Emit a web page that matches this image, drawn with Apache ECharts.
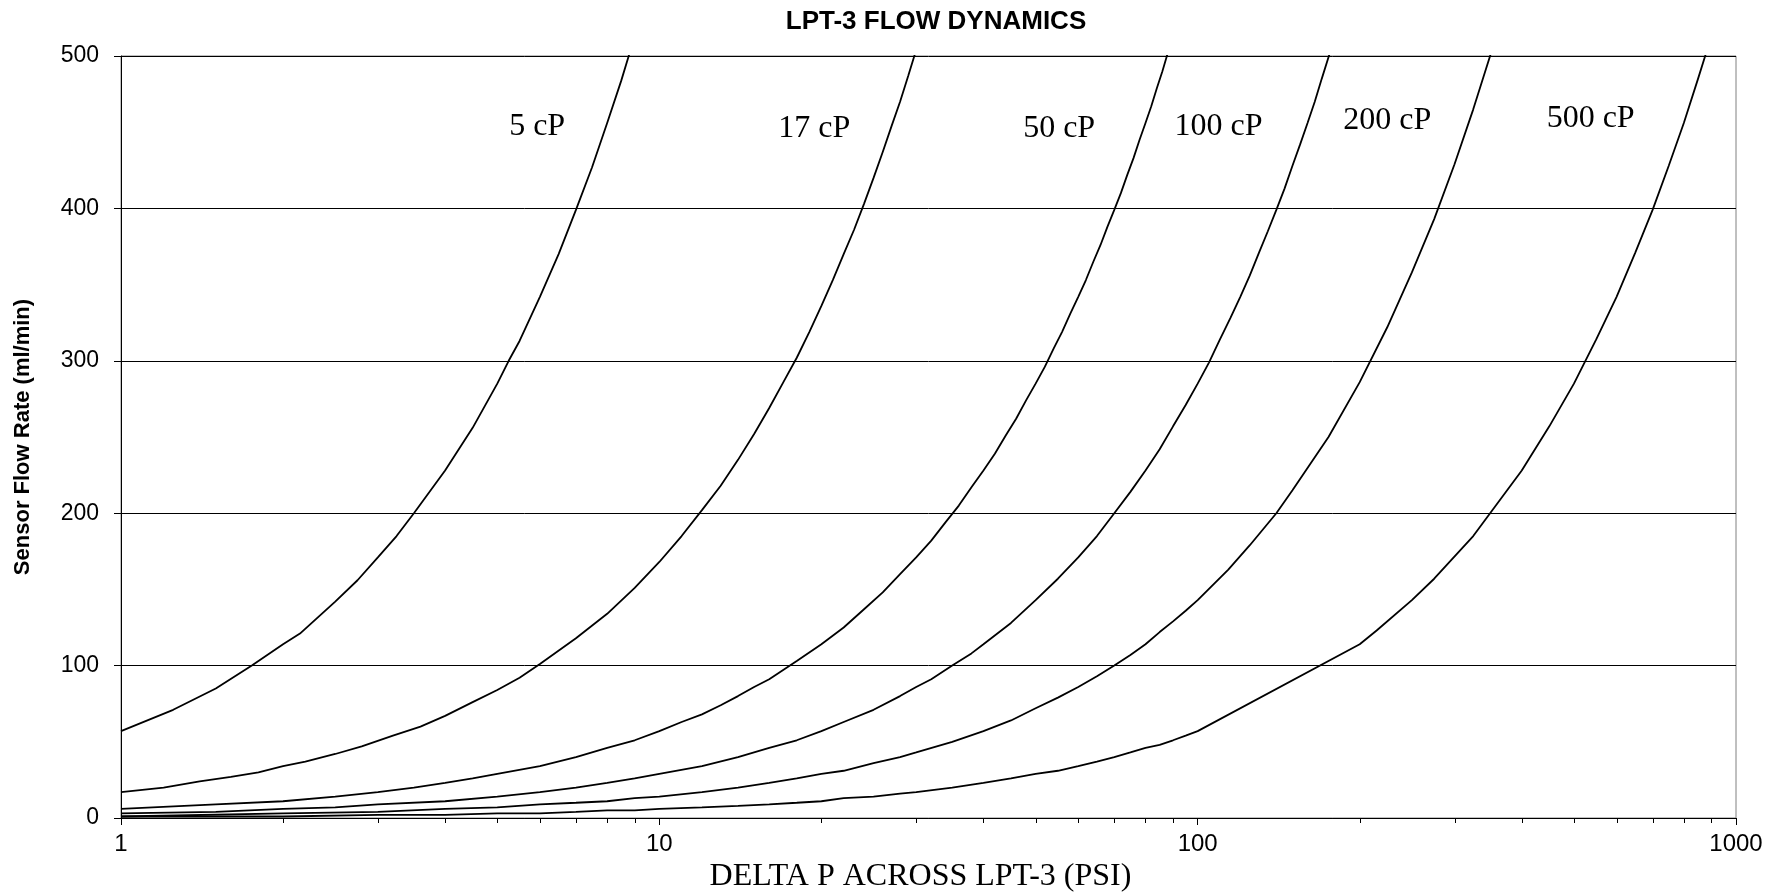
<!DOCTYPE html>
<html>
<head>
<meta charset="utf-8">
<script src="https://cdn.jsdelivr.net/npm/echarts@6/dist/echarts.min.js"></script>
<style>
html, body { margin: 0; padding: 0; background: #fff; }
#chart { width: 1777px; height: 894px; }
</style>
</head>
<body>
<div id="chart"></div>
<script>
// ---- Data (x = delta P in PSI, y = flow in ml/min) ----
const dp5    = [1, 1.25, 1.5, 1.75, 2, 2.15, 2.5, 2.75, 3, 3.25, 3.5, 4, 4.5, 5, 5.25, 5.5, 6, 6.5, 7, 7.5, 8, 8.5, 9];
const flow5  = [57, 71, 85, 100, 114, 121, 142, 156, 171, 185, 200, 228, 256, 285, 300, 313, 342, 370, 399, 427, 456, 484, 513];

const dp17   = [1, 1.2, 1.4, 1.6, 1.8, 2, 2.2, 2.5, 2.8, 3.2, 3.6, 4, 4.5, 5, 5.5, 6, 7, 8, 9, 10, 11, 12, 13, 14, 15, 16, 17, 18, 19, 20, 21, 22, 23, 24, 25, 26, 27, 28, 29, 30];
const flow17 = [17, 20, 24, 27, 30, 34, 37, 42, 47, 54, 60, 67, 76, 84, 92, 101, 118, 134, 151, 168, 185, 202, 218, 235, 252, 269, 286, 302, 319, 336, 353, 370, 386, 403, 420, 437, 454, 470, 487, 504];

const dp50   = [1, 1.5, 2, 2.5, 3, 3.5, 4, 4.5, 5, 6, 7, 8, 9, 10, 11, 12, 13, 14, 15, 16, 18, 20, 22, 24, 26, 28, 30, 32, 34, 36, 38, 40, 42, 44, 46, 48, 50, 52, 54, 56, 58, 60, 62, 64, 66, 68, 70, 72, 74, 76, 78, 80, 82, 84, 86, 88];
const flow50 = [6, 9, 11, 14, 17, 20, 23, 26, 29, 34, 40, 46, 51, 57, 63, 68, 74, 80, 86, 91, 103, 114, 125, 137, 148, 160, 171, 182, 194, 205, 217, 228, 239, 251, 262, 274, 285, 296, 308, 319, 331, 342, 353, 365, 376, 388, 399, 410, 422, 433, 445, 456, 467, 479, 490, 502];

const dp100   = [1, 1.5, 2, 2.5, 3, 4, 5, 6, 7, 8, 9, 10, 12, 14, 16, 18, 20, 22, 25, 28, 30, 32, 35, 38, 40, 45, 50, 55, 60, 65, 70, 75, 80, 85, 90, 95, 100, 105, 110, 115, 120, 125, 130, 135, 140, 145, 150, 155, 160, 165, 170, 176];
const flow100 = [3, 4, 6, 7, 9, 11, 14, 17, 20, 23, 26, 29, 34, 40, 46, 51, 57, 63, 71, 80, 86, 91, 100, 108, 114, 128, 143, 157, 171, 185, 200, 214, 228, 242, 257, 271, 285, 299, 314, 328, 342, 356, 371, 385, 399, 413, 428, 442, 456, 470, 485, 502];

const dp200   = [1, 2, 3, 4, 5, 6, 7, 8, 9, 10, 12, 14, 16, 18, 20, 22, 25, 28, 30, 35, 40, 45, 50, 55, 60, 65, 70, 75, 80, 85, 90, 95, 100, 114, 125, 140, 150, 175, 200, 225, 250, 275, 300, 325, 350];
const flow200 = [1, 3, 4, 6, 7, 9, 10, 11, 13, 14, 17, 20, 23, 26, 29, 31, 36, 40, 43, 50, 57, 64, 72, 79, 86, 93, 100, 107, 114, 122, 129, 136, 143, 163, 179, 200, 215, 250, 286, 322, 358, 393, 429, 465, 501];

const dp500   = [1, 2, 3, 4, 5, 6, 7, 8, 9, 10, 12, 14, 16, 18, 20, 22, 25, 28, 30, 35, 40, 45, 50, 55, 60, 65, 70, 75, 80, 85, 90, 95, 100, 200, 215, 250, 275, 325, 400, 450, 500, 550, 600, 650, 700, 750, 800, 850, 900];
const flow500 = [1, 1, 2, 2, 3, 3, 4, 5, 5, 6, 7, 8, 9, 10, 11, 13, 14, 16, 17, 20, 23, 26, 29, 31, 34, 37, 40, 43, 46, 48, 51, 54, 57, 114, 123, 143, 157, 185, 228, 257, 285, 314, 342, 371, 399, 428, 456, 485, 513];

const curveNames = ['5 cP', '17 cP', '50 cP', '100 cP', '200 cP', '500 cP'];
// label anchors in data space (delta P, flow)
const curveLabelAt = [[5.93, 453.5], [19.4, 452.5], [55.3, 452.5], [109.3, 453.5], [225, 457.5], [537, 459]];

const xTickLabels = ['1', '10', '100', '1000'];
const minorTickValues = [2, 3, 4, 5, 6, 7, 8, 9, 20, 30, 40, 50, 60, 70, 80, 90, 200, 300, 400, 500, 600, 700, 800, 900];

// ---- Chart ----
const dpArrays = [dp5, dp17, dp50, dp100, dp200, dp500];
const flowArrays = [flow5, flow17, flow50, flow100, flow200, flow500];

const SANS = '"Liberation Sans", Arial, Helvetica, sans-serif';
const SERIF = '"Liberation Serif", "Times New Roman", Times, serif';

const lineSeries = curveNames.map(function (name, i) {
  const xs = dpArrays[i], ys = flowArrays[i];
  return {
    type: 'line',
    name: name,
    data: xs.map(function (x, j) { return [x, ys[j]]; }),
    symbol: 'none',
    showSymbol: false,
    clip: true,
    silent: true,
    z: 3,
    lineStyle: { color: '#000', width: 1.8 },
    markPoint: {
      symbol: 'circle',
      symbolSize: 1,
      silent: true,
      itemStyle: { color: 'rgba(0,0,0,0)' },
      label: {
        show: true,
        position: 'inside',
        formatter: name,
        color: '#000',
        fontFamily: SERIF,
        fontSize: 32
      },
      data: [{ coord: curveLabelAt[i] }]
    }
  };
});

const minorTickSeries = {
  type: 'custom',
  silent: true,
  z: 4,
  data: minorTickValues.map(function (v) { return [v, 0]; }),
  renderItem: function (params, api) {
    const p = api.coord([api.value(0), api.value(1)]);
    const x = Math.round(p[0]) + 0.5;
    return {
      type: 'line',
      shape: { x1: x, y1: p[1], x2: x, y2: p[1] + 5 },
      style: { stroke: '#000', lineWidth: 1 }
    };
  }
};

const chart = echarts.init(document.getElementById('chart'), null, { renderer: 'canvas' });
chart.setOption({
  animation: false,
  backgroundColor: '#fff',
  title: {
    text: 'LPT-3 FLOW DYNAMICS',
    left: 936,
    top: 9,
    padding: 0,
    textAlign: 'center',
    textStyle: { fontFamily: SANS, fontWeight: 'bold', fontSize: 26, color: '#000' }
  },
  grid: {
    left: 121, right: 41, top: 56, bottom: 76,
    containLabel: false,
    outerBoundsMode: 'none',
    show: true,
    borderColor: '#808080',
    borderWidth: 1,
    backgroundColor: 'rgba(0,0,0,0)'
  },
  xAxis: {
    type: 'log',
    logBase: 10,
    min: 1,
    max: 1000,
    name: 'DELTA P ACROSS LPT-3 (PSI)',
    nameLocation: 'middle',
    nameGap: 42,
    nameTextStyle: { fontFamily: SERIF, fontSize: 32, color: '#000', padding: [0, 16, 0, 0] },
    axisLine: { show: true, onZero: false, lineStyle: { color: '#000', width: 1 } },
    axisTick: { show: true, inside: false, length: 7, lineStyle: { color: '#000', width: 1 } },
    minorTick: { show: false },
    splitLine: { show: false },
    axisLabel: {
      margin: 14,
      fontFamily: SANS,
      fontSize: 24,
      color: '#000',
      formatter: function (v) {
        const k = Math.round(Math.log10(v));
        return xTickLabels[k] !== undefined ? xTickLabels[k] : String(v);
      }
    }
  },
  yAxis: {
    type: 'value',
    min: 0,
    max: 500,
    interval: 100,
    name: 'Sensor Flow Rate (ml/min)',
    nameLocation: 'middle',
    nameGap: 87,
    nameTextStyle: { fontFamily: SANS, fontWeight: 'bold', fontSize: 22, color: '#000' },
    axisLine: { show: true, lineStyle: { color: '#000', width: 1 } },
    axisTick: { show: true, inside: false, length: 7, lineStyle: { color: '#000', width: 1 } },
    splitLine: { show: true, lineStyle: { color: '#000', width: 1 } },
    axisLabel: { margin: 22, fontFamily: SANS, fontSize: 23, color: '#000' }
  },
  series: lineSeries.concat([minorTickSeries])
});
</script>
</body>
</html>
